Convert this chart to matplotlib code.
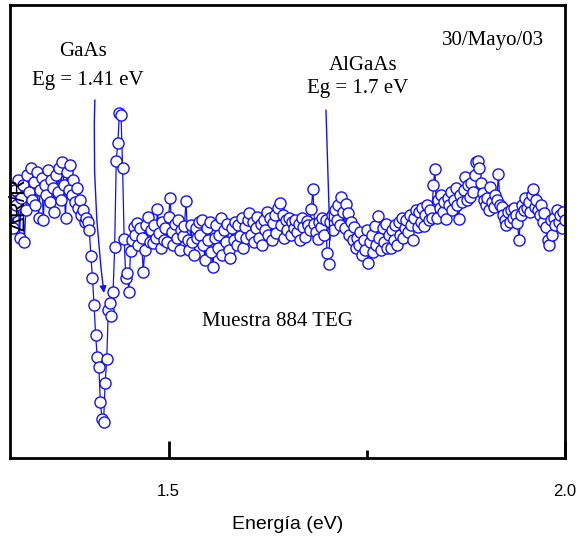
import numpy as np
import matplotlib
matplotlib.use("Agg")
import matplotlib.pyplot as plt
from matplotlib.ticker import FixedLocator, NullLocator

# ---- data (energy in eV, Delta R / R in arbitrary units) ----
e_start, e_step, e_stop = 1.300, 0.002, 2.000
dr_part1 = [0.30, 0.18, 0.02, 0.40, 0.25, 0.50, -0.08, 0.32, 0.45, -0.12,
            0.20, 0.55, 0.38, 0.62, 0.30, 0.48, 0.25, 0.58, 0.12, 0.40,
            0.52, 0.10, 0.45, 0.35, 0.60, 0.28, 0.50, 0.42, 0.18, 0.55,
            0.38, 0.62, 0.30, 0.68, 0.45, 0.12, 0.58, 0.40, 0.65, 0.35,
            0.50, 0.28, 0.42, 0.22, 0.30, 0.15, 0.20, 0.08, 0.12, 0.08]
dr_gaas = [0.00, -0.26, -0.48, -0.75, -1.05, -1.27, -1.37, -1.72, -1.89, -1.92,
           -1.53, -1.29, -0.80, -0.73, -0.86, -0.62, -0.17, 0.69, 0.87, 1.17,
           1.15, 0.62, -0.09, -0.48, -0.43, -0.62, -0.21, -0.10, 0.03, -0.05]
dr_part2 = [0.07, -0.15, 0.02, -0.08, -0.42, -0.20, 0.05, 0.13, -0.12, 0.00,
            -0.13, 0.05, -0.08, 0.21, -0.03, -0.18, 0.08, -0.10, 0.02, -0.12,
            0.13, 0.32, -0.02, -0.15, 0.06, -0.08, 0.10, -0.20, 0.00, -0.06,
            0.04, 0.29, -0.10, -0.20, 0.05, -0.12, -0.25, 0.02, -0.08, 0.08,
            -0.05, 0.10, -0.15, -0.30, 0.02, -0.10, 0.08, -0.22, -0.37, -0.08,
            0.05, -0.18, -0.05, 0.12, -0.25, 0.00, -0.12, 0.06, -0.20, -0.28,
            0.02, -0.10, 0.08, -0.15, 0.05, -0.06, 0.12, -0.18, 0.03, -0.08,
            0.10, 0.17, -0.05, 0.08, -0.12, 0.02, 0.13, -0.08, 0.06, -0.15,
            0.10, 0.00, 0.18, -0.05, 0.12, -0.10, 0.07, 0.15, -0.03, 0.22,
            0.27, 0.05, 0.15, -0.08, 0.10, 0.00, 0.12, -0.05, 0.08, 0.02,
            0.10, -0.02, 0.06, -0.10, 0.12, 0.03, -0.07, 0.09, 0.05, 0.00]
dr_algaas = [0.21, 0.41, 0.06, -0.02, -0.09, 0.08, 0.03, 0.12, -0.05, 0.10,
             -0.23, -0.34, 0.08, 0.15, 0.00, 0.20, 0.10, 0.25, 0.05, 0.33,
             0.18, 0.02, 0.26, 0.17, -0.05, 0.08, -0.10, 0.03, -0.18, -0.08]
dr_part3 = [-0.15, -0.02, -0.25, -0.10, -0.20, 0.00, -0.33, -0.12, -0.05, -0.22,
            0.04, -0.15, 0.14, -0.08, -0.20, 0.02, -0.12, 0.06, -0.18, -0.05,
            -0.18, 0.00, -0.10, 0.05, -0.15, 0.08, -0.05, 0.12, -0.08, 0.02,
            0.10, -0.02, 0.15, 0.05, -0.10, 0.12, 0.20, 0.03, 0.18, 0.08,
            0.22, 0.04, 0.15, 0.25, 0.10, 0.20, 0.12, 0.45, 0.61, 0.12,
            0.30, 0.22, 0.35, 0.18, 0.28, 0.11, 0.32, 0.25, 0.38, 0.20,
            0.30, 0.42, 0.25, 0.11, 0.35, 0.28, 0.40, 0.53, 0.30, 0.45,
            0.33, 0.47, 0.38, 0.55, 0.68, 0.69, 0.62, 0.47, 0.37, 0.30,
            0.25, 0.32, 0.20, 0.43, 0.28, 0.23, 0.35, 0.30, 0.56, 0.25,
            0.23, 0.15, 0.10, 0.05, 0.18, 0.08, 0.20, 0.12, 0.22, 0.15,
            0.07, -0.10, 0.15, 0.25, 0.20, 0.32, 0.22, 0.28, 0.18, 0.35,
            0.41, 0.23, 0.30, 0.20, 0.15, 0.25, 0.08, 0.17, 0.03, -0.10,
            -0.15, 0.10, -0.05, 0.12, 0.05, 0.20, 0.08, 0.15, 0.02, 0.18, 0.10]

delta_r = np.array(dr_part1 + dr_gaas + dr_part2 + dr_algaas + dr_part3)
energy = np.round(e_start + e_step * np.arange(len(delta_r)), 4)

x_ticks_major = [1.5, 2.0]
x_tick_labels = ["1.5", "2.0"]
x_ticks_minor = [1.75]

BLUE = "#1010ff"
SANS = "Liberation Sans"
SERIF = "Liberation Serif"

fig = plt.figure(figsize=(5.82, 5.37), dpi=100)
ax = fig.add_axes([10 / 582, 1 - 458 / 537, 555 / 582, 453 / 537])

ax.plot(energy, delta_r, '-', color=BLUE, lw=0.9, zorder=3)
ax.plot(energy, delta_r, 'o', ms=8, mfc='white', mec=BLUE, mew=1.0,
        linestyle='none', zorder=4)

ax.set_xlim(1.3, 2.0)
ax.set_ylim(-2.28, 2.25)

for s in ax.spines.values():
    s.set_linewidth(2.0)
    s.set_zorder(6)

ax.xaxis.set_major_locator(FixedLocator(x_ticks_major))
ax.set_xticklabels(x_tick_labels, fontfamily=SANS, fontsize=12)
ax.xaxis.set_minor_locator(FixedLocator(x_ticks_minor))
ax.tick_params(axis='x', which='major', direction='in', length=12, width=2, pad=19)
ax.tick_params(axis='x', which='minor', direction='in', length=6, width=2)
ax.yaxis.set_major_locator(NullLocator())
ax.set_xlabel("Energía (eV)", fontfamily=SANS, fontsize=14, labelpad=12)

ax.text(0.016, 0.56, "ΔR/R", transform=ax.transAxes, rotation=90,
        ha='center', va='center', fontfamily=SANS, fontsize=16, zorder=7)

# annotations
ax.text(1.392, 1.78, "GaAs", ha='center', va='center', fontfamily=SERIF, fontsize=15)
ax.text(1.398, 1.50, "Eg = 1.41 eV", ha='center', va='center', fontfamily=SERIF, fontsize=15)
ax.text(1.745, 1.65, "AlGaAs", ha='center', va='center', fontfamily=SERIF, fontsize=15)
ax.text(1.738, 1.42, "Eg = 1.7 eV", ha='center', va='center', fontfamily=SERIF, fontsize=15)
ax.text(1.909, 1.89, "30/Mayo/03", ha='center', va='center', fontfamily=SERIF, fontsize=15)
ax.text(1.637, -0.92, "Muestra 884 TEG", ha='center', va='center', fontfamily=SERIF, fontsize=15)

ax.annotate("", xy=(1.4185, -0.63), xytext=(1.407, 1.30),
            arrowprops=dict(arrowstyle='-|>', color=BLUE, lw=1.0, mutation_scale=10,
                            shrinkA=0, shrinkB=0, connectionstyle="arc3,rad=0.04"),
            zorder=5)
ax.annotate("", xy=(1.7036, -0.10), xytext=(1.6985, 1.20),
            arrowprops=dict(arrowstyle='-', color=BLUE, lw=1.0,
                            shrinkA=0, shrinkB=0), zorder=5)

fig.savefig("out.png", dpi=100)
